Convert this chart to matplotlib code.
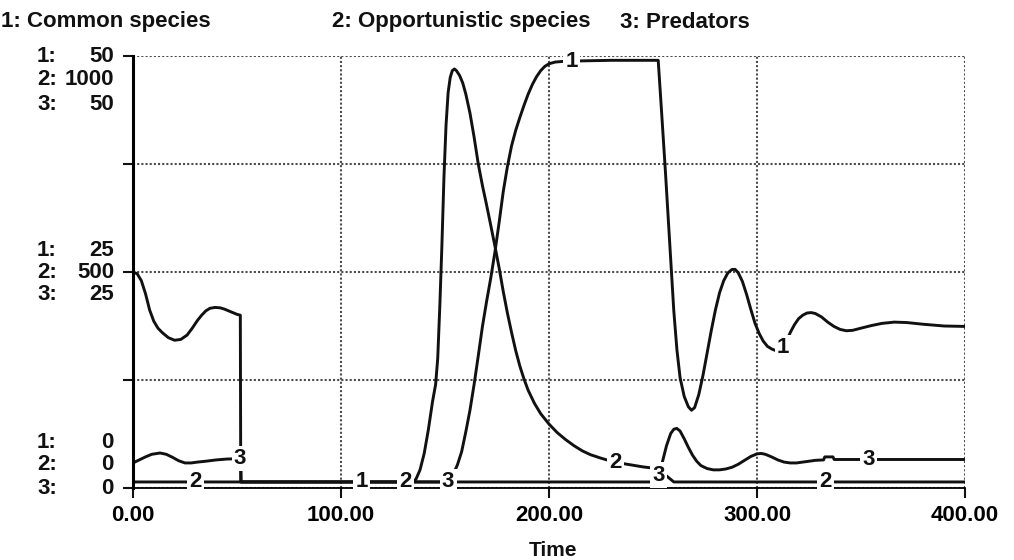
import numpy as np
import matplotlib
matplotlib.use("Agg")
import matplotlib.pyplot as plt

plt.rcParams['font.family'] = ['Liberation Sans', 'DejaVu Sans']
plt.rcParams['font.weight'] = 'bold'

# series names and y scale maxima (1: common, 2: opportunistic, 3: predators)
names = ["1: Common species", "2: Opportunistic species", "3: Predators"]
scale_max = [50, 1000, 50]

# 1: Common species
t1 = [0, 2, 4, 6, 8, 10, 12, 14, 17, 20, 23, 26, 28.5, 31, 33, 35, 37, 39.5, 42, 44, 46, 48,
      50, 51.6, 51.8, 100, 150, 152, 154, 156, 158, 160, 162, 164, 166, 168, 170, 172, 174,
      176, 178, 180, 182, 184, 186, 188, 190, 192, 194, 196, 198, 200, 203, 208, 230, 252.5,
      254, 256, 258, 260, 261.5, 263, 265, 267, 268.5, 270, 272, 274, 276, 278, 280, 282,
      284, 286, 288, 289.5, 291, 293, 295, 297, 299, 301, 303, 305, 307, 309, 312, 314, 316,
      318, 320, 322, 324, 326, 328, 331, 334, 337, 340, 343, 346, 350, 355, 360, 366, 372,
      380, 390, 400]
c1 = [25.0, 24.8, 24.0, 22.5, 20.6, 19.3, 18.5, 18.0, 17.4, 17.1, 17.2, 17.7, 18.5, 19.4,
      20.0, 20.5, 20.8, 20.9, 20.85, 20.7, 20.5, 20.3, 20.1, 20.0, 0.7, 0.7, 0.7, 0.9, 1.6,
      2.7, 4.2, 6.5, 9.0, 12.0, 15.3, 18.7, 21.6, 24.3, 27.3, 30.7, 34.3, 37.2, 39.6, 41.4,
      42.9, 44.3, 45.6, 46.7, 47.6, 48.3, 48.8, 49.1, 49.3, 49.4, 49.5, 49.5, 44.0, 36.5,
      28.5, 20.5, 16.0, 12.8, 10.6, 9.4, 9.0, 9.3, 10.8, 13.0, 15.6, 18.2, 20.6, 22.6, 24.0,
      24.9, 25.3, 25.3, 24.9, 23.9, 22.4, 20.7, 19.1, 17.9, 17.0, 16.4, 16.1, 15.9, 16.0,
      16.9, 18.0, 18.9, 19.6, 20.0, 20.25, 20.3, 20.2, 19.8, 19.2, 18.7, 18.35, 18.2, 18.25,
      18.5, 18.8, 19.05, 19.2, 19.15, 18.95, 18.75, 18.7]

# 2: Opportunistic species
t2 = [0, 50, 100, 134, 136, 138, 140, 142, 144, 145.5, 146.5, 147.5, 148.5, 149.5, 150.5,
      151.5, 152.5, 153.5, 154.5, 155.5, 157, 158.5, 160, 162, 164, 166, 168, 170, 172, 174,
      176, 178, 180, 182, 184, 186, 188, 190, 193, 196, 200, 204, 208, 212, 216, 220, 225,
      230, 235, 240, 245, 250, 253, 256, 258, 260, 300, 350, 400]
c2 = [14, 14, 14, 14, 20, 42, 80, 135, 200, 240, 300, 420, 560, 720, 840, 915, 950, 966, 970,
      966, 955, 938, 912, 868, 812, 750, 700, 655, 608, 560, 510, 455, 405, 360, 318, 282,
      252, 226, 196, 172, 148, 128, 112, 98, 86, 77, 69, 62, 57, 53, 49, 46, 40, 30, 22, 14,
      14, 14, 14]

# 3: Predators
t3 = [0, 3, 6, 9, 13, 16, 19, 22, 25, 28, 31, 35, 40, 45, 51.8, 52.0, 100, 150, 200, 250,
      252.5, 254.5, 256.5, 258.5, 260, 261.4, 263, 265, 267, 269, 271, 273, 276, 279, 282,
      285, 288, 291, 294, 297, 300, 302, 304, 307, 310, 313, 316, 319, 322, 325, 328, 332,
      332.6, 336.5, 337.1, 345, 360, 400]
c3 = [2.9, 3.25, 3.6, 3.9, 4.05, 3.9, 3.55, 3.15, 2.9, 2.9, 3.0, 3.1, 3.25, 3.35, 3.4, 0.7,
      0.7, 0.7, 0.7, 0.7, 1.5, 3.0, 4.9, 6.3, 6.8, 6.9, 6.6, 5.7, 4.7, 3.8, 3.1, 2.6, 2.25,
      2.1, 2.1, 2.2, 2.4, 2.75, 3.2, 3.65, 3.95, 4.0, 3.9, 3.6, 3.25, 3.0, 2.9, 2.9, 3.0,
      3.1, 3.2, 3.25, 3.6, 3.6, 3.3, 3.3, 3.3, 3.3]

# where the curve numbers sit (time)
lab_t = [[110, 211, 312.5], [30, 131, 232, 333], [51.5, 151.5, 252.5, 353.5]]

x_ticks = [0, 100, 200, 300, 400]

W, H = 1014, 560
def fx(p):
    return p / W
def fy(p):
    return 1 - p / H

fig = plt.figure(figsize=(W / 100, H / 100), dpi=100)
ax = fig.add_axes([fx(133), fy(488), (965 - 133) / W, (488 - 56) / H])

series = [(t1, c1), (t2, c2), (t3, c3)]
for i, (t, c) in enumerate(series):
    ax.plot(t, np.array(c) / scale_max[i], color='#111111', lw=2.1,
            solid_joinstyle='round', solid_capstyle='round')
    for lt in lab_t[i]:
        yv = np.interp(lt, t, c) / scale_max[i]
        ax.text(lt, yv, str(i + 1), ha='center', va='center', fontsize=16, fontweight='bold',
                color='#111111', zorder=5,
                bbox=dict(boxstyle='square,pad=0.1', fc='white', ec='none'))

ax.set_xlim(0, 400)
ax.set_ylim(0, 1)
ax.set_xticks(x_ticks)
ax.set_xticklabels([f"{v:.2f}" for v in x_ticks], fontsize=16, fontweight='bold')
ax.set_yticks([0, 0.25, 0.5, 0.75, 1])
ax.set_yticklabels([])
ax.tick_params(axis='both', direction='out', length=7, width=1.5, color='#111111', pad=5)
ax.grid(True, color='0.3', linestyle=(0, (1, 1)), linewidth=1.5)
ax.spines['top'].set_visible(False)
ax.spines['right'].set_visible(False)
ax.spines['left'].set_linewidth(2.2)
ax.spines['bottom'].set_linewidth(1.3)

# stacked y scale labels, STELLA style
groups = [(56, 1.0, [0, 24, 48]), (272, 0.5, [-21, 1, 23]), (488, 0.0, [-45, -23, 0])]
for ypix, frac, offs in groups:
    for i in range(3):
        yy = ypix + offs[i]
        fig.text(fx(37), fy(yy), f"{i + 1}:", ha='left', va='center', fontsize=16,
                 fontweight='bold', color='#111111')
        fig.text(fx(114), fy(yy), f"{scale_max[i] * frac:g}", ha='right', va='center',
                 fontsize=16, fontweight='bold', color='#111111')

# legend row
leg_x = [1, 332, 620]
for nm, lx in zip(names, leg_x):
    fig.text(fx(lx), fy(22), nm, ha='left', va='center', fontsize=16, fontweight='bold',
             color='#111111')

fig.text(fx(553), fy(551), "Time", ha='center', va='center', fontsize=15, fontweight='bold',
         color='#111111')

fig.savefig('out.png', dpi=100)
